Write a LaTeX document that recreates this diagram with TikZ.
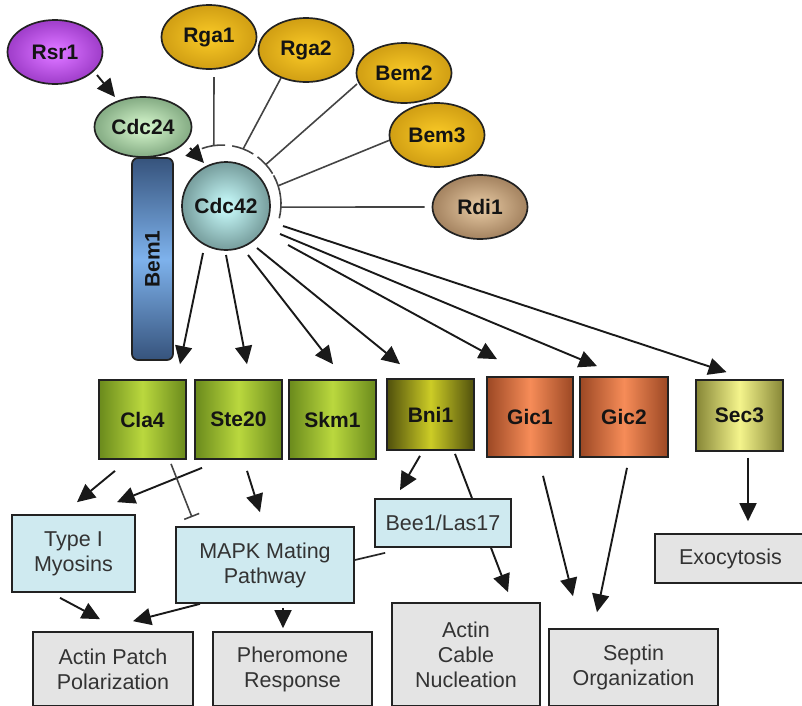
\documentclass[tikz,border=0pt]{standalone}
\usepackage{fontspec}
\setmainfont{Liberation Sans}
\usetikzlibrary{arrows.meta,calc,shapes.geometric}
\pgfdeclarelayer{bg}
\pgfsetlayers{bg,main}
\definecolor{ic}{HTML}{FFFFFF}
\definecolor{oc}{HTML}{000000}
\pgfdeclareradialshading[ic,oc]{softball}{\pgfpoint{0bp}{0bp}}{color(0bp)=(ic); color(4bp)=(ic); color(22bp)=(ic!55!oc); color(48bp)=(oc); color(100bp)=(oc)}
\definecolor{boxblue}{HTML}{CFEAF0}
\definecolor{boxgray}{HTML}{E4E4E4}
\definecolor{inhgray}{HTML}{444444}
\definecolor{edgec}{HTML}{222222}
\definecolor{rsrI}{HTML}{D870FF}
\definecolor{rsrO}{HTML}{6A0E98}
\definecolor{yelI}{HTML}{F4C424}
\definecolor{yelO}{HTML}{B07C04}
\definecolor{rdiI}{HTML}{DEC09A}
\definecolor{rdiO}{HTML}{6E4A2A}
\definecolor{c24I}{HTML}{CCEEC4}
\definecolor{c24O}{HTML}{426E48}
\definecolor{c42I}{HTML}{BEF0F0}
\definecolor{c42O}{HTML}{34504F}
\definecolor{bemI}{HTML}{7EB2EC}
\definecolor{bemO}{HTML}{36537C}
\definecolor{limeO}{HTML}{6A8A1C}
\definecolor{limeI}{HTML}{BAD83E}
\definecolor{oliveO}{HTML}{50500C}
\definecolor{oliveI}{HTML}{CCCC26}
\definecolor{oranO}{HTML}{9C4824}
\definecolor{oranI}{HTML}{F68C58}
\definecolor{paleO}{HTML}{868636}
\definecolor{paleI}{HTML}{F4F48C}
\tikzset{
  base/.style={draw=edgec, line width=1.7pt, inner sep=0pt, text=black!92},
  bfont/.style={font=\fontsize{21}{24}\selectfont\bfseries},
  rfont/.style={font=\fontsize{21.5}{25}\selectfont},
  rshade/.style 2 args={/utils/exec={\colorlet{ic}{#1}\colorlet{oc}{#2}}, shade, shading=softball},
  oval/.style={base, bfont, ellipse, minimum width=95pt, minimum height=64pt},
  kin/.style={base, bfont, rectangle, minimum width=87pt, minimum height=79pt},
  hshade/.style 2 args={left color=#1, right color=#1, middle color=#2},
  bluebox/.style={base, rfont, fill=boxblue, align=center, text=black!80},
  graybox/.style={base, rfont, fill=boxgray, align=center, text=black!80},
  act/.style={line width=1.9pt, draw=black!90, -{Triangle[length=18pt,width=17pt]}},
  inh/.style={line width=1.6pt, draw=inhgray},
}
\begin{document}
\begin{tikzpicture}[x=1pt,y=-1pt]
\useasboundingbox (0,0) rectangle (802,705);
\clip (0,0) rectangle (802,705);

% upstream regulators
\node[oval, rshade={rsrI}{rsrO}] (rsr) at (55,52) {Rsr1};
\node[oval, rshade={yelI}{yelO}] (rga1) at (209,37) {Rga1};
\node[oval, rshade={yelI}{yelO}] (rga2) at (306,50) {Rga2};
\node[oval, rshade={yelI}{yelO}, minimum height=60pt] (bem2) at (404,73) {Bem2};
\node[oval, rshade={yelI}{yelO}] (bem3) at (437,135) {Bem3};
\node[oval, rshade={rdiI}{rdiO}] (rdi) at (480,207) {Rdi1};

\node[base, bfont, rectangle, rounded corners=6pt, rotate=90, minimum width=202pt, minimum height=41pt,
      top color=bemO, bottom color=bemO, middle color=bemI] (bem1) at (152.5,259) {Bem1};
\node[oval, rshade={c24I}{c24O}, minimum width=97pt, minimum height=60pt] (cdc24) at (143,127) {Cdc24};
\node[base, bfont, circle, minimum size=88pt, rshade={c42I}{c42O}] (cdc42) at (226,206) {Cdc42};
\coordinate (hub) at (222,204);

% effectors
\node[kin, hshade={limeO}{limeI}] (cla4) at (142.5,419.5) {Cla4};
\node[kin, hshade={limeO}{limeI}] (ste20) at (238.5,419.5) {Ste20};
\node[kin, hshade={limeO}{limeI}] (skm1) at (332.5,419.5) {Skm1};
\node[kin, hshade={oliveO}{oliveI}, minimum height=71pt] (bni1) at (430.5,414.5) {Bni1};
\node[kin, hshade={oranO}{oranI}, minimum width=86pt, minimum height=80pt] (gic1) at (530,417) {Gic1};
\node[kin, hshade={oranO}{oranI}, minimum width=88pt, minimum height=80pt] (gic2) at (624,417) {Gic2};
\node[kin, hshade={paleO}{paleI}, minimum height=71pt] (sec3) at (739.5,415.5) {Sec3};

% intermediate
\node[bluebox, minimum width=123pt, minimum height=77pt] (myo) at (73.5,553.5) {Type I\\Myosins};
\node[bluebox, minimum width=178pt, minimum height=76pt] (mapk) at (265,565) {MAPK Mating\\Pathway};
\node[bluebox, minimum width=136pt, minimum height=48pt] (bee) at (443,523) {Bee1/Las17};

% outcomes
\node[graybox, minimum width=160pt, minimum height=74pt] (app) at (113,669) {Actin Patch\\Polarization};
\node[graybox, minimum width=159pt, minimum height=74pt] (phr) at (292.5,669) {Pheromone\\Response};
\node[graybox, minimum width=148pt, minimum height=103pt] (acn) at (466,654.5) {Actin\\Cable\\Nucleation};
\node[graybox, minimum width=169pt, minimum height=77pt] (sep) at (633.5,667.5) {Septin\\Organization};
\node[graybox, minimum width=151pt, minimum height=49pt] (exo) at (730.5,558.5) {Exocytosis};

\begin{pgfonlayer}{bg}
% activation upstream
\draw[act] ($(rsr)+(42,23)$) -- ($(cdc24)+(-28,-30)$);
\draw[act] ($(cdc24)+(47,21)$) -- ($(cdc42)+(-22,-43)$);

% inhibitors of Cdc42
\draw[inh] ($(rga1)+(5,40)$) -- ($(hub)+(262:59)$);
\draw[inh] ($(hub)+(250:59)$) arc[start angle=250, end angle=273, radius=59];
\draw[inh] ($(rga2)+(-25,28)$) -- ($(hub)+(291:59)$);
\draw[inh] ($(hub)+(280:59)$) arc[start angle=280, end angle=302, radius=59];
\draw[inh] ($(bem2)+(-47,11)$) -- ($(hub)+(318:59)$);
\draw[inh] ($(hub)+(307:59)$) arc[start angle=307, end angle=329, radius=59];
\draw[inh] ($(bem3)+(-47,5)$) -- ($(hub)+(342:59)$);
\draw[inh] ($(hub)+(331:59)$) arc[start angle=331, end angle=353, radius=59];
\draw[inh] ($(rdi.west)+(-7,0)$) -- ($(hub)+(3:59)$);
\draw[inh] ($(hub)+(353:59)$) arc[start angle=353, end angle=374, radius=59];

% Cdc42 to effectors
\draw[act] ($(cdc42)+(-23,47)$) -- ($(cla4.north)+(37.5,-15)$);
\draw[act] ($(cdc42)+(0,49)$) -- ($(ste20.north)+(8.5,-15)$);
\draw[act] ($(cdc42)+(22,49)$) -- ($(skm1.north)+(0.5,-15)$);
\draw[act] ($(cdc42)+(31,42)$) -- ($(bni1.north)+(-30.5,-14)$);
\draw[act] ($(cdc42)+(62,39)$) -- ($(gic1.north)+(-33,-17)$);
\draw[act] ($(cdc42)+(54,28)$) -- ($(gic2.north)+(-27,-10)$);
\draw[act] ($(cdc42)+(57,20)$) -- ($(sec3.north)+(-13,-7)$);

% lower connections
\draw[act] ($(cla4.south)+(-27.5,11)$) -- ($(myo.north)+(3.5,-12)$);
\draw[act] ($(ste20.south)+(-36.5,8)$) -- ($(myo.north)+(43.5,-12)$);
\draw[inh, -{Bar[width=16pt]}] ($(cla4.south)+(28.5,4)$) -- ($(mapk.north)+(-73,-9)$);
\draw[act] ($(ste20.south)+(8.5,11)$) -- ($(mapk.north)+(-5,-14)$);
\draw[act] ($(bni1.south)+(-10.5,5)$) -- ($(bee.north)+(-43,-8)$);
\draw[act] ($(bni1.south)+(24.5,3)$) -- ($(acn.north)+(42,-10)$);
\draw[line width=1.7pt, draw=black!85] ($(mapk.east)+(0,-5)$) -- ($(bee.south west)+(11,5)$);
\draw[act] ($(myo.south)+(-13.5,5)$) -- ($(app.north)+(-13,-12)$);
\draw[act] ($(mapk.south)+(-65,0)$) -- ($(app.north)+(20,-10)$);
\draw[act] ($(mapk.south)+(18,4)$) -- ($(phr.north)+(-9.5,-3)$);
\draw[act] ($(gic1.south)+(13,18)$) -- ($(sep.north)+(-60.5,-32)$);
\draw[act] ($(gic2.south)+(3,10)$) -- ($(sep.north)+(-36.5,-16)$);
\draw[act] ($(sec3.south)+(8.5,6)$) -- ($(exo.north)+(17.5,-12)$);
\end{pgfonlayer}
\end{tikzpicture}
\end{document}
